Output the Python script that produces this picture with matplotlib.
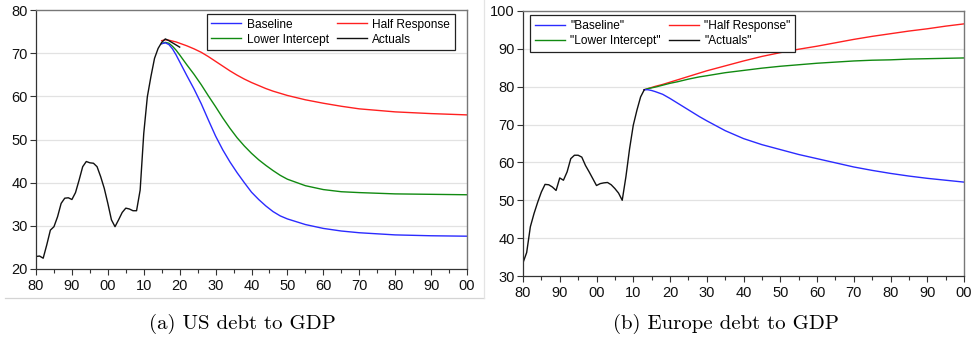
import matplotlib
matplotlib.use("Agg")
import matplotlib.pyplot as plt
from matplotlib.ticker import MultipleLocator, FuncFormatter
from matplotlib.lines import Line2D

plt.rcParams['font.family'] = ['Liberation Sans', 'DejaVu Sans']

# ---------------- US debt to GDP ----------------
us_actual_years = list(range(1980, 2021))
us_actual = [22.9, 23.0, 22.5, 25.6, 29.0, 29.8, 32.1, 35.2, 36.4, 36.5,
             36.1, 37.7, 40.6, 43.7, 44.9, 44.6, 44.5, 43.7, 41.4, 38.7,
             35.2, 31.4, 29.8, 31.4, 33.1, 34.1, 33.9, 33.5, 33.5, 38.3,
             51.4, 59.9, 64.6, 68.8, 71.1, 72.5, 73.3, 72.9, 72.4, 71.9,
             71.4]

us_proj_years = [2015, 2016, 2017, 2018, 2019, 2020, 2022, 2024, 2026, 2028,
                 2030, 2032, 2034, 2036, 2038, 2040, 2042, 2044, 2046, 2048,
                 2050, 2055, 2060, 2065, 2070, 2080, 2090, 2100]
us_baseline = [72.2, 72.4, 72.0, 71.0, 69.6, 68.0, 64.8, 61.7, 58.3, 54.5,
               50.8, 47.6, 44.8, 42.3, 40.0, 37.8, 36.1, 34.6, 33.3, 32.3,
               31.6, 30.3, 29.4, 28.8, 28.4, 27.9, 27.7, 27.6]
us_half = [72.9, 73.1, 73.0, 72.8, 72.6, 72.3, 71.7, 71.0, 70.2, 69.2,
           68.1, 67.0, 65.9, 64.9, 64.0, 63.2, 62.5, 61.8, 61.2, 60.7,
           60.2, 59.2, 58.4, 57.7, 57.1, 56.4, 56.0, 55.7]
us_lower = [72.2, 72.5, 72.3, 71.6, 70.7, 69.6, 67.3, 65.1, 62.7, 60.1,
            57.6, 55.0, 52.6, 50.4, 48.5, 46.8, 45.3, 44.0, 42.8, 41.7,
            40.8, 39.3, 38.4, 37.9, 37.7, 37.4, 37.3, 37.2]

# ---------------- Europe debt to GDP ----------------
eu_actual_years = list(range(1980, 2014))
eu_actual = [33.5, 36.2, 43.0, 46.5, 49.5, 52.2, 54.2, 54.1, 53.5, 52.6,
             55.9, 55.3, 57.5, 61.0, 61.9, 61.9, 61.4, 59.2, 57.5, 55.7,
             53.9, 54.4, 54.6, 54.7, 54.1, 53.1, 51.9, 50.0, 56.2, 63.6,
             69.8, 73.8, 77.3, 79.2]

eu_proj_years = [2013, 2014, 2015, 2016, 2018, 2020, 2022, 2025, 2028, 2030,
                 2035, 2040, 2045, 2050, 2055, 2060, 2065, 2070, 2075, 2080,
                 2085, 2090, 2095, 2100]
eu_baseline = [79.2, 79.2, 79.0, 78.7, 78.0, 76.9, 75.7, 73.9, 72.1, 71.0,
               68.4, 66.3, 64.7, 63.4, 62.1, 61.0, 59.9, 58.8, 57.9, 57.1,
               56.4, 55.8, 55.3, 54.8]
eu_half = [79.2, 79.5, 79.8, 80.1, 80.6, 81.2, 81.8, 82.7, 83.6, 84.2,
           85.5, 86.8, 88.0, 89.0, 89.9, 90.7, 91.6, 92.5, 93.3, 94.0,
           94.7, 95.3, 96.0, 96.6]
eu_lower = [79.2, 79.5, 79.7, 79.9, 80.4, 80.9, 81.3, 82.0, 82.6, 82.9,
            83.7, 84.3, 84.9, 85.4, 85.8, 86.2, 86.5, 86.8, 87.0, 87.1,
            87.3, 87.4, 87.5, 87.6]

labels_us = ["Baseline", "Half Response", "Lower Intercept", "Actuals"]
labels_eu = ['"Baseline"', '"Half Response"', '"Lower Intercept"', '"Actuals"']
captions = ["(a) US debt to GDP", "(b) Europe debt to GDP"]

C_BLUE = "#2b2bff"
C_RED = "#ff2020"
C_GREEN = "#118a11"
C_BLACK = "#111111"

W, H = 972, 339
fig = plt.figure(figsize=(W / 100, H / 100), dpi=100)


def px_axes(left, right, top, bottom):
    return fig.add_axes([left / W, 1 - bottom / H, (right - left) / W, (bottom - top) / H])


def style(ax, ylo, yhi):
    ax.set_xlim(1980, 2100)
    ax.set_ylim(ylo, yhi)
    ax.xaxis.set_major_locator(MultipleLocator(10))
    ax.xaxis.set_minor_locator(MultipleLocator(5))
    ax.yaxis.set_major_locator(MultipleLocator(10))
    ax.xaxis.set_major_formatter(FuncFormatter(lambda v, p: f"{int(round(v)) % 100:02d}"))
    ax.tick_params(axis='both', which='both', direction='out', labelsize=10.5,
                   colors='#333333', labelcolor='#111111', width=0.8)
    ax.tick_params(axis='both', which='major', length=4, pad=2)
    ax.tick_params(axis='x', which='minor', length=3)
    ax.tick_params(axis='x', which='major', pad=3)
    for s in ['left', 'bottom']:
        ax.spines[s].set_color('#333333')
        ax.spines[s].set_linewidth(0.9)
    for s in ['top', 'right']:
        ax.spines[s].set_color('#777777')
        ax.spines[s].set_linewidth(1.0)
    for yv in range(int(ylo) + 10, int(yhi), 10):
        ax.axhline(yv, color='#e2e2e2', lw=0.9, zorder=0)


def legend(ax, labels, **kw):
    handles = [Line2D([], [], color=C_BLUE, lw=1),
               Line2D([], [], color=C_RED, lw=1),
               Line2D([], [], color=C_GREEN, lw=1),
               Line2D([], [], color=C_BLACK, lw=1)]
    order = [0, 2, 1, 3]
    lg = ax.legend([handles[i] for i in order], [labels[i] for i in order],
                   ncol=2, fontsize=8.6, frameon=True, fancybox=False,
                   handlelength=2.5, handletextpad=0.45, columnspacing=0.7,
                   labelspacing=0.25, borderpad=0.4, borderaxespad=0, **kw)
    fr = lg.get_frame()
    fr.set_edgecolor('#222222')
    fr.set_linewidth(0.9)
    fr.set_alpha(1)


# Left panel
ax1 = px_axes(36, 467, 10, 269)
style(ax1, 20, 80)
ax1.plot(us_proj_years, us_half, color=C_RED, lw=1)
ax1.plot(us_proj_years, us_lower, color=C_GREEN, lw=1)
ax1.plot(us_proj_years, us_baseline, color=C_BLUE, lw=1)
ax1.plot(us_actual_years, us_actual, color=C_BLACK, lw=1)
legend(ax1, labels_us, loc='upper right', bbox_to_anchor=(0.972, 0.985))

# Right panel
ax2 = px_axes(523, 964, 11, 276)
style(ax2, 30, 100)
ax2.plot(eu_proj_years, eu_half, color=C_RED, lw=1)
ax2.plot(eu_proj_years, eu_lower, color=C_GREEN, lw=1)
ax2.plot(eu_proj_years, eu_baseline, color=C_BLUE, lw=1)
ax2.plot(eu_actual_years, eu_actual, color=C_BLACK, lw=1)
legend(ax2, labels_eu, loc='upper left', bbox_to_anchor=(0.016, 0.985))

# Thin border lines framing the left panel image
fig.add_artist(Line2D([5 / W, 484 / W], [1 - 298 / H, 1 - 298 / H], color='#d4d4d4', lw=0.9))
fig.add_artist(Line2D([484 / W, 484 / W], [1 - 298 / H, 1.0], color='#e4e4e4', lw=0.9))

# Sub-figure captions
fig.text(242 / W, 1 - 324 / H, captions[0], ha='center', va='center',
         fontsize=15, family=['cmr10', 'DejaVu Serif'])
fig.text(726 / W, 1 - 324 / H, captions[1], ha='center', va='center',
         fontsize=15, family=['cmr10', 'DejaVu Serif'])

fig.savefig("out.png", dpi=100)
